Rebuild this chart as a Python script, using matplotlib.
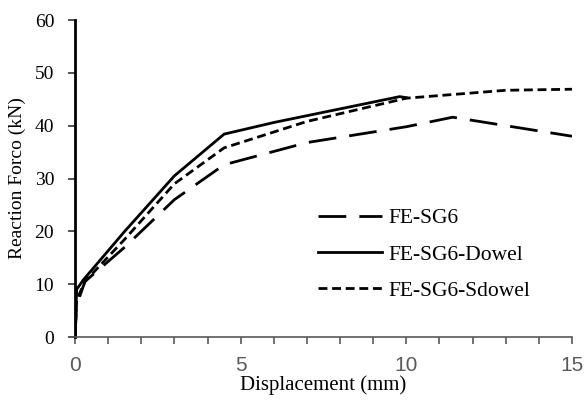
import matplotlib
matplotlib.use("Agg")
import matplotlib.pyplot as plt
from matplotlib.ticker import MultipleLocator

x_sg6 = [0, 0.05, 0.3, 1.5, 3.0, 4.5, 7.0, 10.0, 11.4, 15.0]
y_sg6 = [0, 6.0, 10.5, 17.0, 26.0, 32.6, 36.8, 39.8, 41.6, 38.0]

x_dowel = [0, 0.05, 0.25, 1.5, 3.0, 4.5, 6.0, 9.8, 10.0]
y_dowel = [0, 9.0, 10.8, 20.0, 30.5, 38.4, 40.6, 45.5, 45.3]

x_sdowel = [0, 0.05, 0.3, 1.5, 3.0, 4.5, 7.0, 10.0, 13.0, 15.0]
y_sdowel = [0, 7.0, 10.5, 18.5, 29.0, 35.8, 40.8, 45.2, 46.7, 46.9]

labels = ["FE-SG6", "FE-SG6-Dowel", "FE-SG6-Sdowel"]

fig = plt.figure(figsize=(5.84, 4.05), dpi=100)
ax = fig.add_axes([0.1284, 0.1679, 0.8511, 0.7827])

lw = 2.0
ax.plot(x_sg6, y_sg6, color="black", lw=lw, dashes=(10, 4.7), label=labels[0])
ax.plot(x_dowel, y_dowel, color="black", lw=lw, label=labels[1])
ax.plot(x_sdowel, y_sdowel, color="black", lw=lw, dashes=(3.2, 1.7), label=labels[2])

ax.set_xlim(0, 15)
ax.set_ylim(0, 60)
ax.set_xticks([0, 5, 10, 15])
ax.xaxis.set_minor_locator(MultipleLocator(1))
ax.set_yticks(range(0, 61, 10))

for s in ["top", "right"]:
    ax.spines[s].set_visible(False)
ax.spines["left"].set_color("black")
ax.spines["left"].set_linewidth(2.0)
ax.spines["bottom"].set_color("#595959")
ax.spines["bottom"].set_linewidth(1.2)

ax.tick_params(axis="x", which="both", direction="out", color="#595959", width=1.2,
               labelcolor="#595959", labelsize=15, pad=9)
ax.tick_params(axis="x", which="major", length=5)
ax.tick_params(axis="x", which="minor", length=5)
ax.tick_params(axis="y", direction="out", color="#333333", width=1.2, length=5,
               labelsize=14, pad=10)
for lab in ax.get_xticklabels():
    lab.set_fontfamily("Liberation Sans")
for lab in ax.get_yticklabels():
    lab.set_fontfamily("Liberation Serif")

ax.set_xlabel("Displacement (mm)", fontfamily="Liberation Serif", fontsize=15, labelpad=0)
ax.set_ylabel("Reaction Forco (kN)", fontfamily="Liberation Serif", fontsize=14, labelpad=6)

leg = ax.legend(loc="center left", bbox_to_anchor=(0.449, 0.26), frameon=False,
                prop={"family": "Liberation Serif", "size": 15.5},
                handlelength=3.0, handletextpad=0.3, labelspacing=0.75)

fig.savefig("out.png", dpi=100)
